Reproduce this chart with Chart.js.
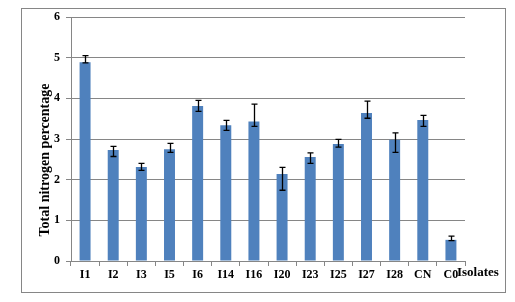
<!DOCTYPE html>
<html><head><meta charset="utf-8">
<script src="https://cdn.jsdelivr.net/npm/chart.js@4"></script>
<style>
html,body{margin:0;padding:0;background:#fff;}
#frame{position:absolute;left:21px;top:8px;width:485px;height:285px;box-sizing:border-box;border:1px solid #868686;}
#c{display:block;}
</style></head><body>
<div id="frame"><canvas id="c" width="483" height="283"></canvas></div>
<script>
const categories = ["I1","I2","I3","I5","I6","I14","I16","I20","I23","I25","I27","I28","CN","C0"];
const values     = [4.89,2.73,2.31,2.75,3.81,3.34,3.43,2.14,2.56,2.88,3.64,2.98,3.47,0.52];
const errHigh    = [5.05,2.82,2.40,2.89,3.95,3.46,3.86,2.30,2.66,2.99,3.93,3.15,3.58,0.61];
const errLow     = [4.87,2.57,2.23,2.67,3.68,3.21,3.31,1.74,2.40,2.80,3.51,2.67,3.31,0.50];
const yTicks     = [0,1,2,3,4,5,6];
const yTitle = "Total nitrogen percentage";
const xTitle = "Isolates";

const errorBars = {
  id:'errorBars',
  afterDatasetsDraw(chart){
    const ctx = chart.ctx, meta = chart.getDatasetMeta(0), ys = chart.scales.y;
    ctx.save();
    ctx.strokeStyle = '#000'; ctx.lineWidth = 1.3;
    meta.data.forEach((bar,i)=>{
      const x = Math.round(bar.x)+0.5;
      const yh = ys.getPixelForValue(errHigh[i]), yl = ys.getPixelForValue(errLow[i]);
      ctx.beginPath();
      ctx.moveTo(x,yh); ctx.lineTo(x,yl);
      ctx.moveTo(x-3,yh); ctx.lineTo(x+3,yh);
      ctx.moveTo(x-3,yl); ctx.lineTo(x+3,yl);
      ctx.stroke();
    });
    ctx.restore();
  }
};
const titles = {
  id:'titles',
  afterDraw(chart){
    const ctx = chart.ctx;
    ctx.save();
    ctx.fillStyle = '#000';
    ctx.font = 'bold 14px "Liberation Serif"';
    ctx.translate(23,151); ctx.rotate(-Math.PI/2);
    ctx.textAlign='center'; ctx.textBaseline='middle';
    ctx.fillText(yTitle,0,0);
    ctx.restore();
    ctx.save();
    ctx.fillStyle='#000';
    ctx.font = 'bold 13px "Liberation Serif"';
    ctx.textAlign='left'; ctx.textBaseline='middle';
    ctx.fillText(xTitle,435,264);
    ctx.restore();
  }
};

new Chart(document.getElementById('c'),{
  type:'bar',
  data:{labels:categories,datasets:[{data:values,backgroundColor:'#4F81BD',borderWidth:0,barPercentage:0.39,categoryPercentage:1}]},
  options:{
    responsive:false,animation:false,
    layout:{padding:{left:0,top:8,right:40,bottom:0}},
    plugins:{legend:{display:false},tooltip:{enabled:false}},
    scales:{
      x:{
        grid:{display:true,drawOnChartArea:false,color:'#868686',tickLength:5},
        border:{color:'#868686'},
        ticks:{color:'#000',font:{family:'Liberation Serif',weight:'bold',size:12},padding:2,maxRotation:0,autoSkip:false},
        afterFit(s){s.height=31; s.paddingLeft=0; s.paddingRight=0;}
      },
      y:{
        min:0,max:6,
        afterBuildTicks(s){s.ticks = yTicks.map(v=>({value:v}));},
        grid:{color:'#868686',tickLength:5},
        border:{color:'#868686'},
        ticks:{color:'#000',font:{family:'Liberation Serif',weight:'bold',size:12},padding:6},
        afterFit(s){s.width=49; s.paddingTop=0; s.paddingBottom=0;}
      }
    }
  },
  plugins:[errorBars,titles]
});
</script>
</body></html>
